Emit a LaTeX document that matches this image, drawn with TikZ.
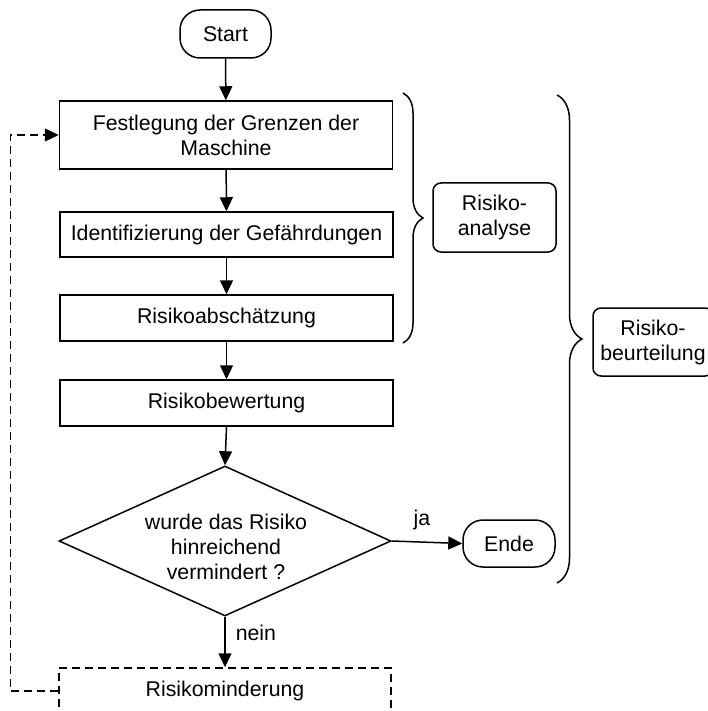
\documentclass[tikz,border=0pt]{standalone}
\usepackage{fontspec}
\setmainfont{Liberation Sans}
\usetikzlibrary{arrows.meta,shapes.geometric,decorations.pathreplacing}
\begin{document}
\begin{tikzpicture}[x=1pt,y=-1pt,
  every node/.style={font=\fontsize{21.3}{25}\selectfont, align=center, inner sep=0pt},
  proc/.style={draw, line width=1.5pt, minimum width=333pt},
  term/.style={draw, line width=1.5pt, rounded corners=20pt},
  grp/.style={draw, line width=1.5pt, rounded corners=8pt},
  flow/.style={line width=1.5pt, -{Triangle[length=14pt,width=13pt]}},
  back/.style={flow, dash pattern=on 8pt off 5pt},
  brc/.style={line width=1.5pt, decorate, decoration={brace}}
]
\useasboundingbox (0,0) rectangle (707,711);
\node[term, minimum width=91pt, minimum height=48pt] (start) at (225.5,34) {Start};
\node[proc, minimum height=68pt] (b1) at (226,135) {Festlegung der Grenzen der\\Maschine};
\node[proc, minimum height=45pt] (b2) at (226.5,234.5) {Identifizierung der Gefährdungen};
\node[proc, minimum height=46pt] (b3) at (226.5,318) {Risikoabschätzung};
\node[proc, minimum height=46pt] (b4) at (226.5,403) {Risikobewertung};
\node[draw, line width=1.5pt, diamond, aspect=2.21, minimum width=332pt, minimum height=150pt] (dia) at (225,541) {};
\node (dtext) at (226,547) {wurde das Risiko\\hinreichend\\vermindert ?};
\node[term, minimum width=92pt, minimum height=47pt] (ende) at (509,543.5) {Ende};
\node[proc, minimum width=332pt, minimum height=46pt, dash pattern=on 8pt off 5pt] (rm) at (225,691) {Risikominderung};
\node[grp, minimum width=123pt, minimum height=69pt] (ra) at (494.5,217.5) {Risiko-\\analyse};
\node[grp, minimum width=120pt, minimum height=68pt] (rb) at (653,342) {Risiko-\\beurteilung};

\draw[flow] (start) -- (b1);
\draw[flow] (b1) -- (b2);
\draw[flow] (b2) -- (b3);
\draw[flow] (b3) -- (b4);
\draw[flow] (b4.south) -- (dia.north);
\draw[flow] (dia.east) -- node[above=12pt, xshift=-5pt] {ja} (ende.west);
\draw[flow] (dia.south) -- node[right=10pt, yshift=9pt] {nein} (rm.north);
\draw[back] (rm.west) -- ++(-48,0) |- (b1.west);

\coordinate (a1) at (403,93);
\coordinate (a2) at (403,343);
\coordinate (c1) at (557,95);
\coordinate (c2) at (557,583);
\draw[brc, decoration={brace, amplitude=20pt}] (a1) -- (a2);
\draw[brc, decoration={brace, amplitude=25pt}] (c1) -- (c2);
\end{tikzpicture}
\end{document}
